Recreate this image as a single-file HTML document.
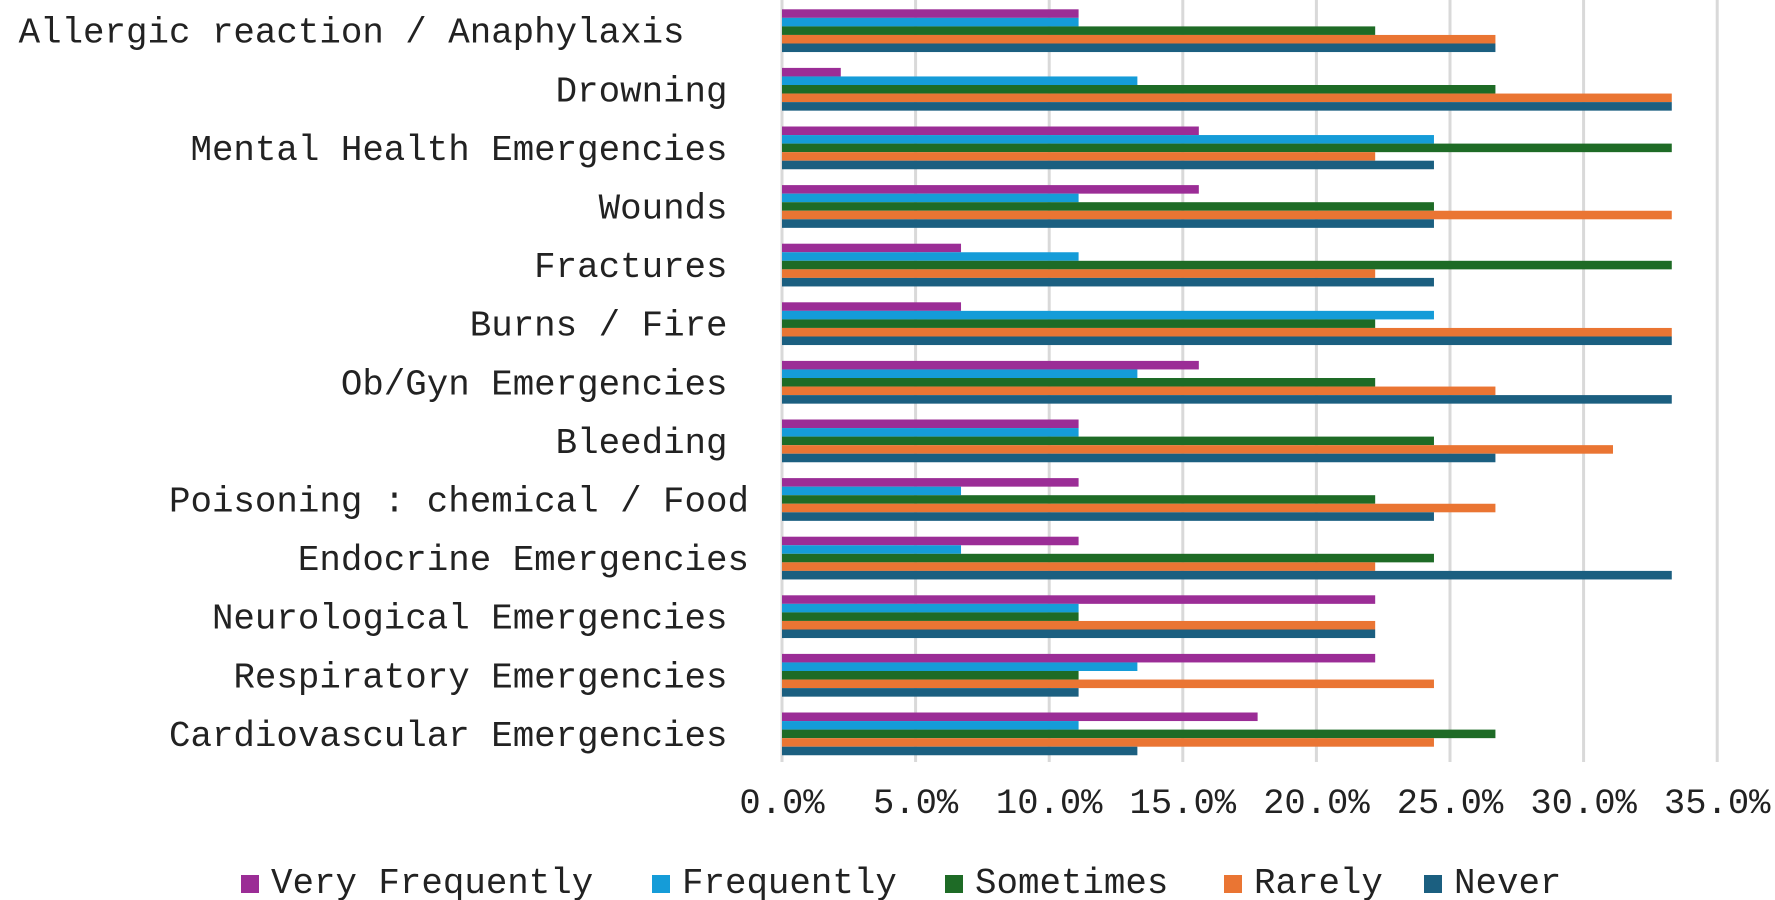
<!DOCTYPE html>
<html><head><meta charset="utf-8"><style>
html,body{margin:0;padding:0;background:#fff;}
svg{display:block;}
text{font-family:"Liberation Mono",monospace;fill:#222;}
</style></head><body>
<svg id="chart" width="1775" height="900" viewBox="0 0 1775 900" xmlns="http://www.w3.org/2000/svg"></svg>
<script>
const categories = ["Allergic reaction / Anaphylaxis   ","Drowning ","Mental Health Emergencies ","Wounds ","Fractures ","Burns / Fire ","Ob/Gyn Emergencies ","Bleeding ","Poisoning : chemical / Food","Endocrine Emergencies","Neurological Emergencies ","Respiratory Emergencies ","Cardiovascular Emergencies "];
const seriesNames = ["Very Frequently","Frequently","Sometimes","Rarely","Never"];
const veryFrequently = [11.1,2.2,15.6,15.6,6.7,6.7,15.6,11.1,11.1,11.1,22.2,22.2,17.8];
const frequently     = [11.1,13.3,24.4,11.1,11.1,24.4,13.3,11.1,6.7,6.7,11.1,13.3,11.1];
const sometimes      = [22.2,26.7,33.3,24.4,33.3,22.2,22.2,24.4,22.2,24.4,11.1,11.1,26.7];
const rarely         = [26.7,33.3,22.2,33.3,22.2,33.3,26.7,31.1,26.7,22.2,22.2,24.4,24.4];
const never          = [26.7,33.3,24.4,24.4,24.4,33.3,33.3,26.7,24.4,33.3,22.2,11.1,13.3];
const tickValues = [0,5,10,15,20,25,30,35];
const tickLabels = ["0.0%","5.0%","10.0%","15.0%","20.0%","25.0%","30.0%","35.0%"];

const colors = ["#9b2d96","#159cd8","#1e6b26","#ea7533","#1b5f80"];
const series = [veryFrequently,frequently,sometimes,rarely,never];
const NS = "http://www.w3.org/2000/svg";
const svg = document.getElementById('chart');
const x0 = 782, pxPer = 26.72;
const xScale = v => x0 + v*pxPer;
const bandTop = 9.3, band = 58.6, barH = 8.55;
const yScale = i => bandTop + i*band;
function mk(tag, attrs){const e=document.createElementNS(NS,tag);for(const k in attrs)e.setAttribute(k,attrs[k]);svg.appendChild(e);return e;}

tickValues.forEach((v,i)=>{
  const g = mk('line',{x1:xScale(v),x2:xScale(v),y1:0,y2:762,stroke:'#d9d9d9','stroke-width':3});
  
  
  const t = mk('text',{x:xScale(v),y:813,'text-anchor':'middle','font-size':35.5});
  t.textContent = tickLabels[i];
  
  
});

categories.forEach((c,i)=>{
  const t = mk('text',{x:749,y:yScale(i)+21.4+12,'text-anchor':'end','font-size':35.8});
  t.setAttribute('xml:space','preserve');
  t.style.whiteSpace='pre';
  t.textContent = c;
  
  
  series.forEach((s,j)=>{
    const r = mk('rect',{x:x0,y:yScale(i)+j*barH,width:xScale(s[i])-x0,height:barH,fill:colors[j]});
    
    
  });
});

const legX = [241,652,945,1224,1424];
seriesNames.forEach((n,j)=>{
  const r = mk('rect',{x:legX[j],y:875,width:18,height:18,fill:colors[j]});
  
  
  const t = mk('text',{x:legX[j]+30,y:893,'font-size':35.8});
  t.textContent = n;
  
  
});
</script>
</body></html>
